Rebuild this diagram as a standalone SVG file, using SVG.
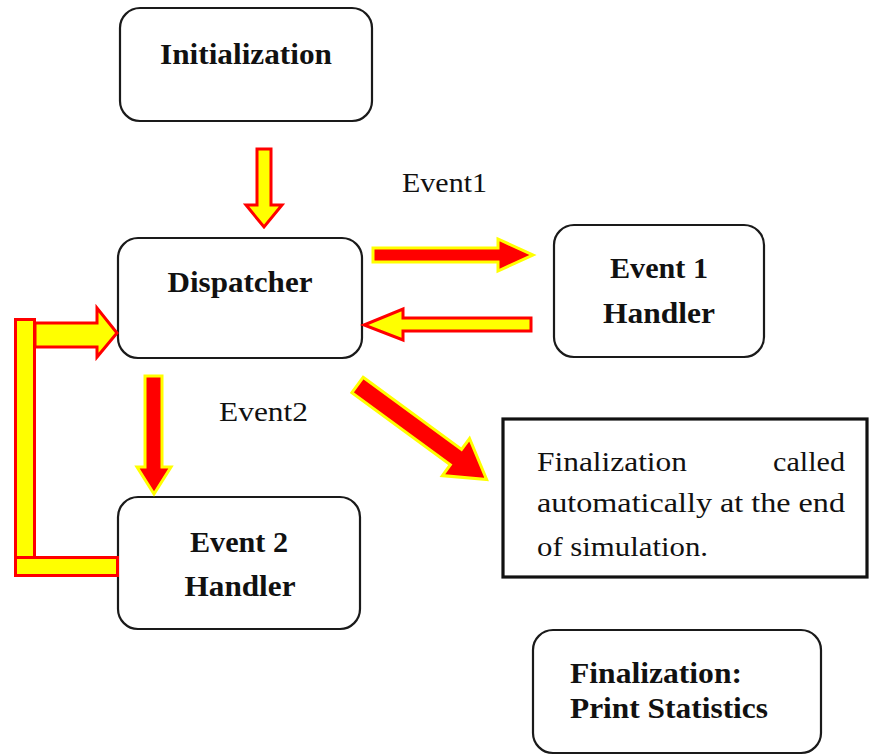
<svg xmlns="http://www.w3.org/2000/svg" width="873" height="756" viewBox="0 0 873 756">
  <style>
    .box { fill: #ffffff; stroke: #1a1a1a; stroke-width: 2.2; }
    .sq { fill: #ffffff; stroke: #111111; stroke-width: 3.2; }
    text { font-family: "Liberation Serif", serif; fill: #111111; }
    .lbl { font-weight: bold; font-size: 29px; }
    .txt { font-size: 28px; }
    .ry { fill: #ff0000; stroke: #ffff00; stroke-width: 3; stroke-linejoin: miter; }
    .yr { fill: #ffff00; stroke: #ff0000; stroke-width: 3; stroke-linejoin: miter; }
  </style>

  <g id="initialization">
    <rect class="box" x="120" y="8" width="252" height="113" rx="20"/>
    <text class="lbl" font-family="Liberation Serif, serif" x="246" y="64" text-anchor="middle" textLength="172" lengthAdjust="spacingAndGlyphs">Initialization</text>
  </g>

  <g id="dispatcher">
    <rect class="box" x="118" y="238" width="244" height="120" rx="20"/>
    <text class="lbl" font-family="Liberation Serif, serif" x="240" y="292" text-anchor="middle" textLength="145" lengthAdjust="spacingAndGlyphs">Dispatcher</text>
  </g>

  <g id="event1-handler">
    <rect class="box" x="554" y="225" width="210" height="132" rx="20"/>
    <text class="lbl" font-family="Liberation Serif, serif" x="659" y="278" text-anchor="middle" textLength="98" lengthAdjust="spacingAndGlyphs">Event 1</text>
    <text class="lbl" font-family="Liberation Serif, serif" x="659" y="323" text-anchor="middle" textLength="112" lengthAdjust="spacingAndGlyphs">Handler</text>
  </g>

  <g id="event2-handler">
    <rect class="box" x="118" y="497" width="242" height="132" rx="20"/>
    <text class="lbl" font-family="Liberation Serif, serif" x="239" y="552" text-anchor="middle" textLength="98" lengthAdjust="spacingAndGlyphs">Event 2</text>
    <text class="lbl" font-family="Liberation Serif, serif" x="240" y="596" text-anchor="middle" textLength="111" lengthAdjust="spacingAndGlyphs">Handler</text>
  </g>

  <g id="finalization-note">
    <rect class="sq" x="503" y="419" width="364" height="158"/>
    <text class="txt" font-family="Liberation Serif, serif" x="537" y="471" textLength="150" lengthAdjust="spacingAndGlyphs">Finalization</text>
    <text class="txt" font-family="Liberation Serif, serif" x="845" y="471" text-anchor="end" textLength="72" lengthAdjust="spacingAndGlyphs">called</text>
    <text class="txt" font-family="Liberation Serif, serif" x="537" y="512" textLength="308" lengthAdjust="spacingAndGlyphs">automatically at the end</text>
    <text class="txt" font-family="Liberation Serif, serif" x="537" y="556" textLength="171" lengthAdjust="spacingAndGlyphs">of simulation.</text>
  </g>

  <g id="print-statistics">
    <rect class="box" x="533" y="630" width="288" height="123" rx="20"/>
    <text class="lbl" font-family="Liberation Serif, serif" x="570" y="683" textLength="172" lengthAdjust="spacingAndGlyphs">Finalization:</text>
    <text class="lbl" font-family="Liberation Serif, serif" x="570" y="718" textLength="198" lengthAdjust="spacingAndGlyphs">Print Statistics</text>
  </g>

  <g id="connectors">
    <!-- Initialization to Dispatcher -->
    <polygon class="yr" points="257,149 271,149 271,205 282,205 264,227 246,205 257,205"/>
    <!-- Dispatcher to Event 1 Handler -->
    <polygon class="ry" points="373,248 498,248 498,239 533,255 498,271 498,262 373,262"/>
    <!-- Event 1 Handler back to Dispatcher -->
    <polygon class="yr" points="531,318 403,318 403,309 364,325 403,340 403,331 531,331"/>
    <!-- Dispatcher to Event 2 Handler -->
    <polygon class="ry" points="145,376 162,376 162,467 171,467 154,494 137,467 145,467"/>
    <!-- Dispatcher to finalization -->
    <polygon class="ry" transform="translate(357.5,385) rotate(36.2)" points="0,-9.5 122,-9.5 122,-23 160,0 122,23 122,9.5 0,9.5"/>
    <!-- Event 2 Handler loop back to Dispatcher -->
    <rect class="yr" x="15.5" y="319.5" width="19" height="238"/>
    <rect class="yr" x="15.5" y="557.5" width="102" height="18"/>
    <polygon class="yr" points="35,323 97,323 97,308 117,333 97,357 97,347 35,347"/>
    <text class="txt" font-family="Liberation Serif, serif" x="402" y="192" textLength="85" lengthAdjust="spacingAndGlyphs">Event1</text>
    <text class="txt" font-family="Liberation Serif, serif" x="219" y="421" textLength="89" lengthAdjust="spacingAndGlyphs">Event2</text>
  </g>
</svg>
